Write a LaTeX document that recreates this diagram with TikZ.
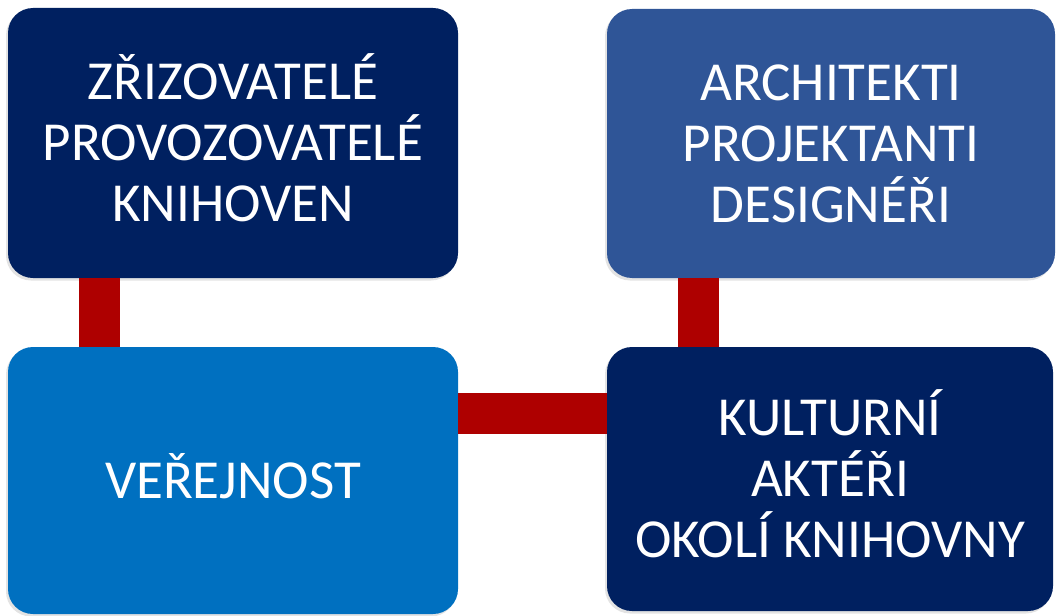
\documentclass[tikz,border=0pt]{standalone}
\usepackage{fontspec}
\setmainfont{Carlito}
\usetikzlibrary{positioning, shadows}
\definecolor{libnavy}{RGB}{0, 32, 96}
\definecolor{libsteel}{RGB}{47, 85, 151}
\definecolor{libblue}{RGB}{0, 112, 192}
\definecolor{libred}{RGB}{174, 0, 0}

\begin{document}
\begin{tikzpicture}[
    tile/.style={rounded corners=25pt, inner sep=0pt, text=white, align=center,
      font=\fontsize{55}{61}\selectfont, text depth=0pt, text height=157pt,
      drop shadow={shadow xshift=-2pt, shadow yshift=-2.5pt, opacity=0.22}},
    link/.style={draw=libred, line width=41pt, line cap=butt}
  ]
  \useasboundingbox (0,0) rectangle (1056pt,-615pt);

  \node[tile, fill=libnavy, minimum width=450pt, minimum height=270pt] (zrizovatele) at (233pt,-143pt)
    {ZŘIZOVATELÉ\\PROVOZOVATELÉ\\KNIHOVEN};
  \node[tile, fill=libsteel, minimum width=448pt, minimum height=269pt] (architekti) at (831pt,-143.5pt)
    {ARCHITEKTI\\PROJEKTANTI\\DESIGNÉŘI};
  \node[tile, fill=libblue, minimum width=450pt, minimum height=267pt, text height=35pt] (verejnost) at (233pt,-480.5pt)
    {VEŘEJNOST};
  \node[tile, fill=libnavy, minimum width=446pt, minimum height=264pt] (kulturni) at (830pt,-479pt)
    {KULTURNÍ\\AKTÉŘI\\OKOLÍ KNIHOVNY};

  % red connectors
  \draw[link] ([xshift=-133.5pt]zrizovatele.south) -- ([xshift=-133.5pt]verejnost.north);
  \draw[link] ([xshift=-133pt]architekti.south) -- ([xshift=-133pt]architekti.south |- kulturni.north);
  \draw[link] ([yshift=67.5pt]verejnost.east) -- ([yshift=67.5pt]verejnost.east -| kulturni.west);
\end{tikzpicture}
\end{document}
